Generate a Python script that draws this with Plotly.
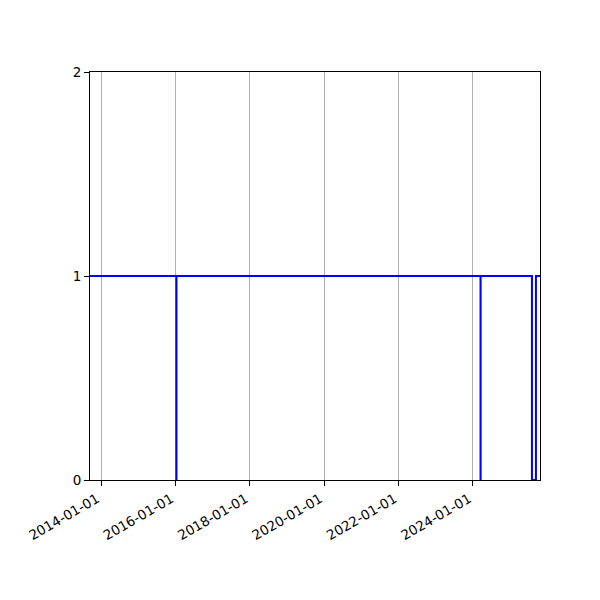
import plotly.graph_objects as go

dates = ["2013-09-15", "2016-01-10", "2016-01-11", "2016-01-12",
         "2024-03-14", "2024-03-15", "2024-03-16",
         "2025-08-02", "2025-09-10", "2025-10-20"]
values = [1, 1, 0, 1, 1, 0, 1, 0, 1, 1]

tick_vals = ["2014-01-01", "2016-01-01", "2018-01-01", "2020-01-01", "2022-01-01", "2024-01-01"]
tick_text = tick_vals
y_ticks = [0, 1, 2]

fig = go.Figure()
fig.add_trace(go.Scatter(x=dates, y=values, mode="lines", line_shape="hv",
                         line=dict(color="blue", width=2)))

fig.update_layout(
    width=592, height=592,
    margin=dict(l=82, r=60, t=64, b=120),
    paper_bgcolor="white", plot_bgcolor="white",
    showlegend=False,
    font=dict(family="DejaVu Sans", size=13.5, color="black"),
)
fig.update_xaxes(
    type="date", range=["2013-09-15", "2025-10-20"],
    tickvals=tick_vals, ticktext=tick_text, tickangle=-30,
    ticklabelshift=-4,
    showgrid=True, gridcolor="#b0b0b0", gridwidth=1,
    showline=True, linecolor="black", linewidth=1, mirror=True,
    ticks="outside", ticklen=5, tickcolor="black", zeroline=False,
)
fig.update_yaxes(
    range=[0, 2], tickvals=y_ticks,
    showgrid=False,
    showline=True, linecolor="black", linewidth=1, mirror=True,
    ticks="outside", ticklen=5, tickcolor="black", zeroline=False,
)
fig.write_html("out.html")
